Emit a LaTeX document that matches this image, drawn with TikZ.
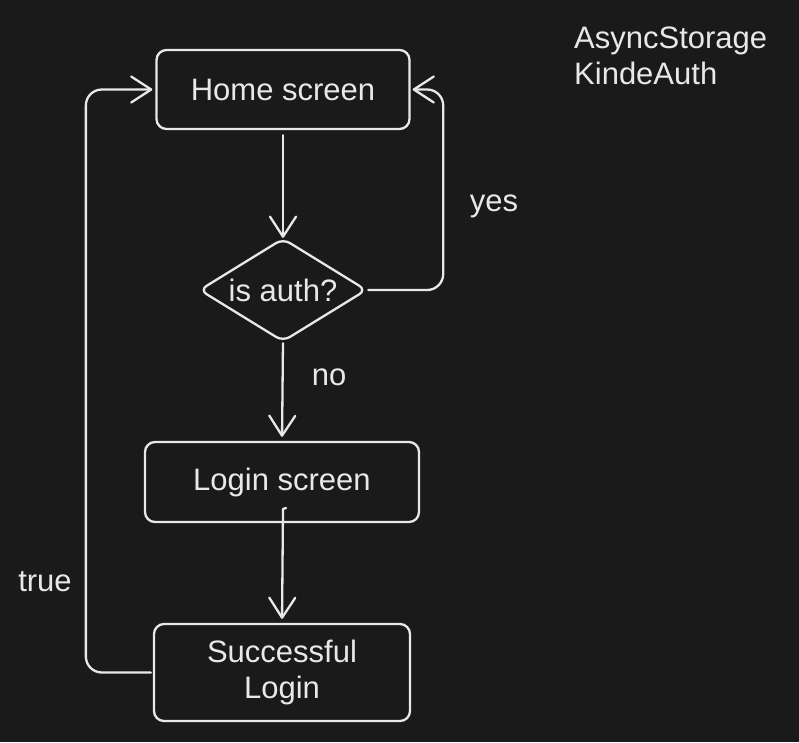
\documentclass[tikz,border=0pt]{standalone}
\usepackage{fontspec}
\setmainfont{Liberation Sans}
\usetikzlibrary{arrows.meta,shapes.geometric}
\definecolor{bg}{HTML}{1A1A1A}
\definecolor{ink}{HTML}{E8E8E8}
\tikzset{
  txt/.style={text=ink, font=\fontsize{31}{36}\selectfont, inner sep=0pt, align=center},
  box/.style={txt, draw=ink, line width=2.3pt, rounded corners=10pt},
  dia/.style={txt, shape=diamond, aspect=1.63, minimum width=166pt, minimum height=102pt},
  arr/.style={draw=ink, line width=2.3pt, line cap=round, line join=round,
    -{Straight Barb[length=20pt,width=26pt,line cap=round,line join=round]}},
  elbow/.style={arr, rounded corners=16pt}
}
\begin{document}
\begin{tikzpicture}[x=1pt,y=-1pt]
\fill[bg] (0,0) rectangle (799,742);
\useasboundingbox (0,0) rectangle (799,742);

\node[box, minimum width=253pt, minimum height=79pt] (home) at (283,89.5) {Home screen};
\node[dia] (auth) at (283,290) {is auth?};
\draw[ink, line width=2.3pt, rounded corners=8pt] (auth.north) -- (auth.east) -- (auth.south) -- (auth.west) -- cycle;
\node[box, minimum width=274pt, minimum height=80pt] (login) at (282,482) {Login screen};
\node[box, minimum width=256pt, minimum height=97pt] (succ) at (282,672.5) {Successful\\Login};

\node[txt] (yes) at (494,206) {yes};
\node[txt] (no) at (329,377) {no};
\node[txt] (true) at (45,582) {true};
\node[txt, anchor=north west, align=left] (store) at (574,27) {AsyncStorage\\KindeAuth};

\coordinate (lstart) at (283,509);

\draw[arr, shorten <=5pt, shorten >=1pt] (home.south) -- (auth.north);
\draw[elbow, shorten <=2pt, shorten >=2pt] (auth.east) -- ++(77,0) |- (home.east);
\draw[arr, shorten <=2pt, shorten >=4pt] (auth.south) -- (login.north);
\draw[arr, shorten >=4pt] ([xshift=3pt,yshift=1pt]lstart) -- (lstart) -- (succ.north);
\draw[elbow, shorten <=2pt, shorten >=3pt] (succ.west) -- ++(-67,0) |- (home.west);
\end{tikzpicture}
\end{document}
